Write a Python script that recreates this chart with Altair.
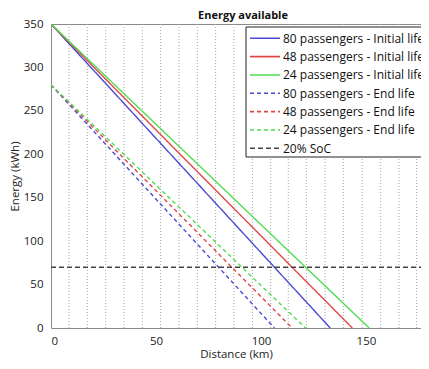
import altair as alt
import pandas as pd

# ---- data ----
series_names = [
    "80 passengers - Initial life",
    "48 passengers - Initial life",
    "24 passengers - Initial life",
    "80 passengers - End life",
    "48 passengers - End life",
    "24 passengers - End life",
    "20% SoC",
]
series_colors = ["#4b4bd2", "#e04848", "#52dc52", "#4b4bd2", "#e04848", "#52dc52", "#444444"]
series_dash = [[1, 0], [1, 0], [1, 0], [4, 3], [4, 3], [4, 3], [5, 3]]

stops_km = [0, 8.72, 17.44, 26.16, 34.88, 43.6, 52.32, 61.04, 69.76, 78.48,
            87.2, 95.92, 104.64, 113.36, 122.08, 130.8, 139.52, 148.24]

blue_initial = [350, 327.0, 304.1, 281.2, 258.2, 235.2, 212.3, 189.3, 166.4, 143.4,
                120.5, 97.5, 74.6, 51.6, 28.7, 5.7]
blue_initial_end = 133.0
red_initial = [350, 328.7, 307.5, 286.2, 264.9, 243.7, 222.4, 201.1, 179.9, 158.6,
               137.3, 116.1, 94.8, 73.5, 52.2, 31.0, 9.7]
red_initial_end = 143.5
green_initial = [350, 329.9, 309.7, 289.6, 269.4, 249.3, 229.1, 209.0, 188.9, 168.7,
                 148.6, 128.4, 108.3, 88.1, 68.0, 47.9, 27.7, 7.6]
green_initial_end = 151.5

blue_end = [280, 257.0, 234.1, 211.2, 188.2, 165.2, 142.3, 119.3, 96.4, 73.4,
            50.5, 27.5, 4.6]
blue_end_end = 106.4
red_end = [280, 258.7, 237.5, 216.2, 194.9, 173.7, 152.4, 131.1, 109.9, 88.6,
           67.3, 46.1, 24.8, 3.5]
red_end_end = 114.8
green_end = [280, 259.9, 239.7, 219.6, 199.4, 179.3, 159.1, 139.0, 118.9, 98.7,
             78.6, 58.4, 38.3, 18.1]
green_end_end = 121.2

soc_km = [0, 180]
soc_energy = [70, 70]

grid_km = [8.57, 17.3, 26.05, 34.8, 43.5, 52.2, 61.0, 69.7, 78.4, 87.1, 95.9,
           104.6, 113.0, 121.6, 130.5, 139.2, 148.2, 157.0, 165.7, 174.1]

x_ticks = [0, 50, 100, 150]
y_ticks = [0, 50, 100, 150, 200, 250, 300, 350]

# ---- build table ----
rows = []
all_series = [
    (blue_initial, blue_initial_end),
    (red_initial, red_initial_end),
    (green_initial, green_initial_end),
    (blue_end, blue_end_end),
    (red_end, red_end_end),
    (green_end, green_end_end),
]
for name, (vals, end) in zip(series_names[:6], all_series):
    for i, v in enumerate(vals):
        rows.append({"series": name, "order": i, "km": stops_km[i], "kwh": v})
    rows.append({"series": name, "order": len(vals), "km": end, "kwh": 0})
for i, (k, e) in enumerate(zip(soc_km, soc_energy)):
    rows.append({"series": series_names[6], "order": i, "km": k, "kwh": e})
df = pd.DataFrame(rows)
grid_df = pd.DataFrame({"km": grid_km})
legend_df = pd.DataFrame({"series": series_names})
box_df = pd.DataFrame({"box": [0]})

FONT = "Open Sans"
xscale = alt.Scale(domain=[0, 176.2], nice=False, zero=False)
yscale = alt.Scale(domain=[0, 350], nice=False)
color_scale = alt.Scale(domain=series_names, range=series_colors)
dash_scale = alt.Scale(domain=series_names, range=series_dash)
legend_y = alt.Y("series:N", sort=series_names, axis=None,
                 scale=alt.Scale(type="point", domain=series_names, range=[14.3, 124.3], padding=0))

grid = alt.Chart(grid_df).mark_rule(color="#a8a8a8", strokeDash=[1, 2], strokeWidth=1, clip=True).encode(
    x=alt.X("km:Q", scale=xscale,
            axis=alt.Axis(orient="top", labels=False, ticks=False, title=None,
                          domainColor="#8a8a8a", grid=False)),
)

lines = alt.Chart(df).mark_line(strokeWidth=1.4, clip=True).encode(
    x=alt.X("km:Q", scale=xscale,
            axis=alt.Axis(values=x_ticks, title="Distance (km)", grid=False, ticks=False,
                          domainColor="#8a8a8a", labelPadding=7, titlePadding=2)),
    y=alt.Y("kwh:Q", scale=yscale,
            axis=alt.Axis(values=y_ticks, title="Energy (kWh)", grid=False, ticks=False,
                          domainColor="#8a8a8a", labelPadding=8, titlePadding=3)),
    color=alt.Color("series:N", scale=color_scale, legend=None),
    strokeDash=alt.StrokeDash("series:N", scale=dash_scale, legend=None),
    order="order:Q",
)

# legend drawn as its own layer (box, symbols, labels)
legend_box = alt.Chart(box_df).mark_rect(fill="white", stroke="#222", strokeWidth=1).encode(
    x=alt.value(195), x2=alt.value(420), y=alt.value(3), y2=alt.value(133),
)
legend_symbols = alt.Chart(legend_df).mark_rule(strokeWidth=1.6).encode(
    x=alt.value(199), x2=alt.value(229),
    y=legend_y,
    color=alt.Color("series:N", scale=color_scale, legend=None),
    strokeDash=alt.StrokeDash("series:N", scale=dash_scale, legend=None),
)
legend_labels = alt.Chart(legend_df).mark_text(
    align="left", baseline="middle", font=FONT, fontSize=12, color="#111", dy=0.5,
).encode(
    x=alt.value(232),
    y=legend_y,
    text="series:N",
)

chart = alt.layer(grid, lines, legend_box, legend_symbols, legend_labels).resolve_axis(
    x="independent", y="independent"
).resolve_scale(y="independent").properties(
    width=370,
    height=304,
    autosize=alt.AutoSizeParams(type="none"),
    padding={"left": 43, "top": 16, "right": 0, "bottom": 33},
    title=alt.TitleParams("Energy available", fontSize=11, font=FONT, fontWeight="bold",
                          color="#111", offset=5, dx=7, dy=8),
).configure_view(stroke=None).configure_axis(
    labelFont=FONT, titleFont=FONT, labelFontSize=11.5, titleFontSize=11.5,
    labelColor="#222", titleColor="#222", titleFontWeight="normal",
)

chart.save("out.html", embed_options={"renderer": "svg", "actions": False})
